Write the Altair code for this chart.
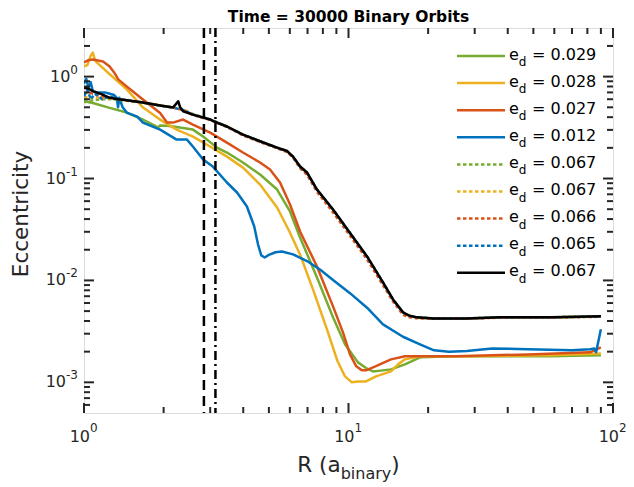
import altair as alt
import pandas as pd

# ---------------- data ----------------
R_green = [1.0, 1.08, 1.25, 1.45, 1.67, 1.85, 1.90, 1.94, 2.06, 2.17, 2.58, 2.82, 3.18, 3.47, 3.99, 4.63, 5.37, 6.01, 6.56, 7.6,
           8.74, 9.7, 10.86, 11.65, 12.38, 13.5, 14.48, 16.35, 18.64, 25.5, 57.8, 90.0]
e_green = [0.573, 0.55, 0.494, 0.444, 0.379, 0.33, 0.316, 0.331, 0.33, 0.3236, 0.302, 0.258, 0.201, 0.18, 0.1435, 0.1094, 0.078,
           0.0475, 0.0264, 0.0107, 0.00434, 0.00236, 0.00157, 0.00138, 0.00128, 0.00131, 0.00134, 0.0015, 0.00176, 0.0018,
           0.0018, 0.00184]

R_yellow = [1.0, 1.03, 1.06, 1.08, 1.10, 1.12, 1.254, 1.454, 1.672, 1.938, 2.25, 2.583, 2.995, 3.472, 3.992, 4.63, 5.37, 5.98,
            6.556, 7.34, 8.29, 9.1, 9.7, 10.3, 10.86, 11.65, 12.7, 14.48, 15.4, 16.35, 18.64, 28.8, 57.8, 90.0]
e_yellow = [1.26, 1.3, 1.6, 1.72, 1.45, 1.37, 1.05, 0.746, 0.497, 0.379, 0.30, 0.258, 0.206, 0.164, 0.128, 0.0873, 0.052, 0.0302,
            0.018, 0.00816, 0.00331, 0.0016, 0.001145, 0.001, 0.00102, 0.00102, 0.001145, 0.00128, 0.0015, 0.00168, 0.0018,
            0.0018, 0.00184, 0.00192]

R_orange = [1.0, 1.04, 1.08, 1.18, 1.25, 1.3, 1.35, 1.45, 1.67, 1.94, 2.06, 2.17, 2.37, 2.58, 3.0, 3.47, 3.99, 4.63, 5.05, 5.51,
            6.01, 6.56, 7.6, 8.74, 9.53, 10.13, 10.7, 11.25, 11.65, 12.7, 14.48, 16.35, 18.64, 25.5, 47.7, 81.9, 90.0]
e_orange = [1.38, 1.45, 1.47, 1.41, 1.26, 1.1, 0.935, 0.80, 0.595, 0.44, 0.354, 0.354, 0.379, 0.338, 0.2825, 0.2254, 0.18, 0.1435,
            0.1225, 0.0914, 0.0556, 0.0302, 0.0137, 0.00556, 0.00309, 0.00188, 0.001435, 0.00131, 0.00131, 0.00144, 0.00168,
            0.0018, 0.0018, 0.0018, 0.00188, 0.00197, 0.0022]

R_blue = [1.0, 1.02, 1.04, 1.06, 1.08, 1.12, 1.2, 1.25, 1.3, 1.33, 1.345, 1.36, 1.40, 1.45, 1.59, 1.67, 1.94, 2.24, 2.45, 2.58,
          2.82, 3.07, 3.47, 3.79, 4.13, 4.40, 4.55, 4.68, 4.82, 5.0, 5.3, 5.6, 6.17, 6.97, 7.8, 8.74, 10.13, 11.75, 13.5, 16.07,
          18.64, 21.05, 24.0, 28.0, 34.9, 47.7, 70.0, 81.9, 85.0, 86.3, 90.0]
e_blue = [0.85, 0.95, 0.78, 0.88, 0.72, 0.70, 0.70, 0.68, 0.66, 0.62, 0.50, 0.62, 0.50, 0.444, 0.405, 0.354, 0.302, 0.241, 0.241,
          0.206, 0.1536, 0.131, 0.0914, 0.0729, 0.0531, 0.034, 0.0225, 0.0176, 0.0168, 0.0178, 0.0189, 0.0192, 0.018, 0.0155,
          0.0128, 0.0101, 0.0075, 0.0054, 0.0037, 0.0028, 0.00236, 0.00206, 0.002, 0.00203, 0.00215, 0.00211, 0.00206,
          0.00211, 0.00215, 0.00197, 0.00331]

R_dot = [1.0, 1.03, 1.06, 1.1, 1.17, 1.25, 1.35, 1.45, 1.67, 1.94, 2.17, 2.37, 2.58, 3.0, 3.47, 3.99, 4.63, 5.37, 5.86, 6.17,
         6.56, 6.97, 7.6, 8.74, 10.1, 11.75, 13.5, 14.74, 16.07, 17.0, 18.16, 20.9, 28.0, 37.4, 57.8, 90.0]
e_dot_green = [0.56, 0.57, 0.58, 0.59, 0.60, 0.60, 0.59, 0.58, 0.555, 0.52, 0.50, 0.475, 0.43, 0.38, 0.325, 0.27, 0.232, 0.200,
               0.185, 0.163, 0.131, 0.114, 0.078, 0.049, 0.0293, 0.0170, 0.0094, 0.0064, 0.0048, 0.0045, 0.0043, 0.00422,
               0.00424, 0.00432, 0.00433, 0.00442]
e_dot_yellow = [0.62, 0.63, 0.62, 0.62, 0.62, 0.61, 0.60, 0.585, 0.556, 0.52, 0.497, 0.47, 0.425, 0.38, 0.324, 0.27, 0.232,
                0.201, 0.186, 0.164, 0.131, 0.1145, 0.078, 0.0495, 0.0295, 0.0171, 0.0095, 0.0065, 0.00485, 0.0045, 0.00434,
                0.00424, 0.00424, 0.00434, 0.00434, 0.00444]
e_dot_orange = [0.68, 0.70, 0.69, 0.67, 0.64, 0.62, 0.60, 0.585, 0.556, 0.52, 0.497, 0.47, 0.42, 0.375, 0.32, 0.265, 0.228,
                0.198, 0.182, 0.16, 0.126, 0.109, 0.074, 0.0465, 0.0278, 0.0161, 0.009, 0.0062, 0.0046, 0.00435, 0.00425,
                0.0042, 0.00422, 0.0043, 0.0043, 0.0044]
e_dot_blue = [0.64, 0.74, 0.60, 0.68, 0.60, 0.64, 0.60, 0.59, 0.556, 0.52, 0.497, 0.47, 0.425, 0.38, 0.324, 0.27, 0.232, 0.201,
              0.186, 0.164, 0.131, 0.1145, 0.078, 0.0497, 0.0296, 0.0172, 0.0096, 0.0065, 0.00486, 0.0045, 0.00434, 0.00424,
              0.00424, 0.00434, 0.00434, 0.00444]

R_black = [1.0, 1.04, 1.08, 1.17, 1.25, 1.35, 1.45, 1.67, 1.94, 2.17, 2.23, 2.27, 2.31, 2.37, 2.58, 3.0, 3.18, 3.47, 3.99, 4.63,
           5.37, 5.86, 6.17, 6.56, 6.97, 7.6, 8.74, 10.1, 11.75, 13.5, 14.74, 16.07, 17.0, 18.16, 20.9, 28.0, 37.4, 57.8, 90.0]
e_black = [0.78, 0.76, 0.72, 0.67, 0.62, 0.60, 0.585, 0.556, 0.52, 0.497, 0.54, 0.573, 0.50, 0.457, 0.424, 0.379, 0.354, 0.324,
           0.27, 0.232, 0.201, 0.186, 0.164, 0.131, 0.1145, 0.078, 0.0497, 0.0296, 0.0172, 0.00956, 0.00651, 0.00486, 0.0045,
           0.00434, 0.00424, 0.00424, 0.00434, 0.00434, 0.00444]

vline_dashed = [2.84]
vline_dashdot = [3.14]

legend_values = ["0.029", "0.028", "0.027", "0.012", "0.067", "0.067", "0.066", "0.065", "0.067"]

x_major = [1, 10, 100]
x_major_exp = ["0", "1", "2"]
x_minor = [2, 3, 4, 5, 6, 7, 8, 9, 20, 30, 40, 50, 60, 70, 80, 90]
y_major = [1e-3, 1e-2, 1e-1, 1.0]
y_major_exp = ["-3", "-2", "-1", "0"]
y_minor = [6e-4, 7e-4, 8e-4, 9e-4,
           2e-3, 3e-3, 4e-3, 5e-3, 6e-3, 7e-3, 8e-3, 9e-3,
           2e-2, 3e-2, 4e-2, 5e-2, 6e-2, 7e-2, 8e-2, 9e-2,
           0.2, 0.3, 0.4, 0.5, 0.6, 0.7, 0.8, 0.9, 2.0]

title_text = "Time = 30000 Binary Orbits"

# ---------------- styling ----------------
W, H = 529, 385
FONT = "DejaVu Sans"
AX = "#262626"
GREEN, YELLOW, ORANGE, BLUE, BLACK = "#77AC30", "#EDB120", "#D95319", "#0072BD", "#000000"
DOT = [3.5, 2.5]
LW = 2.5

xs = alt.Scale(type="log", domain=[1, 100], nice=False)
ys = alt.Scale(type="log", domain=[5e-4, 3], nice=False)


def X(field):
    return alt.X(field, type="quantitative", scale=xs, axis=None)


def Y(field):
    return alt.Y(field, type="quantitative", scale=ys, axis=None)


def curve(R, E, color, dash=None):
    df = pd.DataFrame({"R": R, "e": E})
    kw = dict(color=color, strokeWidth=LW, clip=True, strokeJoin="round")
    if dash:
        kw["strokeDash"] = dash
    return alt.Chart(df).mark_line(**kw).encode(x=X("R"), y=Y("e"))


layers = []
# curves (MATLAB plotting order)
layers.append(curve(R_green, e_green, GREEN))
layers.append(curve(R_yellow, e_yellow, YELLOW))
layers.append(curve(R_orange, e_orange, ORANGE))
layers.append(curve(R_blue, e_blue, BLUE))
layers.append(curve(R_dot, e_dot_green, GREEN, DOT))
layers.append(curve(R_dot, e_dot_yellow, YELLOW, DOT))
layers.append(curve(R_dot, e_dot_orange, ORANGE, DOT))
layers.append(curve(R_dot, e_dot_blue, BLUE, DOT))
layers.append(curve(R_black, e_black, BLACK))

# vertical reference lines
layers.append(alt.Chart(pd.DataFrame({"R": vline_dashed})).mark_rule(
    color=BLACK, strokeWidth=2.5, strokeDash=[10, 6]).encode(x=X("R"), y=alt.value(0), y2=alt.value(H)))
layers.append(alt.Chart(pd.DataFrame({"R": vline_dashdot})).mark_rule(
    color=BLACK, strokeWidth=2.5, strokeDash=[9, 4, 2, 4]).encode(x=X("R"), y=alt.value(0), y2=alt.value(H)))

# ticks (inside, all four sides)
def xticks(vals, length):
    base = alt.Chart(pd.DataFrame({"R": vals}))
    return [
        base.mark_rule(color=AX, strokeWidth=2).encode(x=X("R"), y=alt.value(H), y2=alt.value(H - length)),
        base.mark_rule(color=AX, strokeWidth=2).encode(x=X("R"), y=alt.value(0), y2=alt.value(length)),
    ]


def yticks(vals, length):
    base = alt.Chart(pd.DataFrame({"e": vals}))
    return [
        base.mark_rule(color=AX, strokeWidth=2).encode(y=Y("e"), x=alt.value(0), x2=alt.value(length)),
        base.mark_rule(color=AX, strokeWidth=2).encode(y=Y("e"), x=alt.value(W), x2=alt.value(W - length)),
    ]


layers += xticks(x_major, 10) + xticks(x_minor, 6) + yticks(y_major, 10) + yticks(y_minor, 6)

# x tick labels: 10^n
xl = pd.DataFrame({"R": x_major, "base": ["10"] * len(x_major), "exp": x_major_exp})
layers.append(alt.Chart(xl).mark_text(font=FONT, fontSize=16, color=AX, align="right", baseline="middle", dx=6).encode(
    x=X("R"), y=alt.value(H + 24), text="base:N"))
layers.append(alt.Chart(xl).mark_text(font=FONT, fontSize=12, color=AX, align="left", baseline="middle", dx=6).encode(
    x=X("R"), y=alt.value(H + 15), text="exp:N"))

# y tick labels: 10^n, right aligned
for val, ex in zip(y_major, y_major_exp):
    ew = 7.6 if len(ex) == 1 else 12.0
    d = pd.DataFrame({"e": [val], "base": ["10"], "exp": [ex]})
    layers.append(alt.Chart(d).mark_text(font=FONT, fontSize=12, color=AX, align="right", baseline="middle", dy=-7).encode(
        y=Y("e"), x=alt.value(-6), text="exp:N"))
    layers.append(alt.Chart(d).mark_text(font=FONT, fontSize=16, color=AX, align="right", baseline="middle").encode(
        y=Y("e"), x=alt.value(-6 - ew), text="base:N"))

# title
layers.append(alt.Chart(pd.DataFrame({"t": [title_text]})).mark_text(
    font=FONT, fontSize=15.5, fontWeight="bold", color=BLACK, align="center", baseline="alphabetic").encode(
    x=alt.value(W / 2), y=alt.value(-6.5), text="t:N"))

# y axis title
layers.append(alt.Chart(pd.DataFrame({"t": ["Eccentricity"]})).mark_text(
    font=FONT, fontSize=21.5, color=AX, align="center", baseline="middle", angle=270).encode(
    x=alt.value(-62), y=alt.value(186), text="t:N"))

# x axis title: R (a_binary)
x0 = W / 2 - (43.3 + 50.6 + 8.4) / 2
for txt, dxp, yy, fs in [("R (a", 0, H + 53, 21.5), ("binary", 43.3, H + 61, 16), (")", 43.3 + 50.6, H + 53, 21.5)]:
    layers.append(alt.Chart(pd.DataFrame({"t": [txt]})).mark_text(
        font=FONT, fontSize=fs, color=AX, align="left", baseline="middle").encode(
        x=alt.value(x0 + dxp), y=alt.value(yy), text="t:N"))

# legend
leg_colors = [GREEN, YELLOW, ORANGE, BLUE, GREEN, YELLOW, ORANGE, BLUE, BLACK]
leg_dash = [None, None, None, None, DOT, DOT, DOT, DOT, None]
for i, (val, col, dash) in enumerate(zip(legend_values, leg_colors, leg_dash)):
    yy = 28 + 27.1 * i
    d = pd.DataFrame({"e": ["e"], "d": ["d"], "v": ["= " + val]})
    kw = dict(color=col, strokeWidth=LW)
    if dash:
        kw["strokeDash"] = dash
    layers.append(alt.Chart(d).mark_rule(**kw).encode(x=alt.value(373), x2=alt.value(421), y=alt.value(yy)))
    layers.append(alt.Chart(d).mark_text(font=FONT, fontSize=16, color=BLACK, align="left", baseline="middle").encode(
        x=alt.value(425), y=alt.value(yy - 1.5), text="e:N"))
    layers.append(alt.Chart(d).mark_text(font=FONT, fontSize=12, color=BLACK, align="left", baseline="middle").encode(
        x=alt.value(434.8), y=alt.value(yy + 6), text="d:N"))
    layers.append(alt.Chart(d).mark_text(font=FONT, fontSize=16, color=BLACK, align="left", baseline="middle").encode(
        x=alt.value(448), y=alt.value(yy - 1.5), text="v:N"))

chart = alt.layer(*layers).properties(
    width=W, height=H,
    autosize=alt.AutoSizeParams(type="none"),
    padding={"left": 76, "top": 20, "right": 13, "bottom": 70},
).configure_view(stroke=AX, strokeWidth=2.5).configure(background="white")

chart.save("out.html", embed_options={"renderer": "svg", "actions": False})
